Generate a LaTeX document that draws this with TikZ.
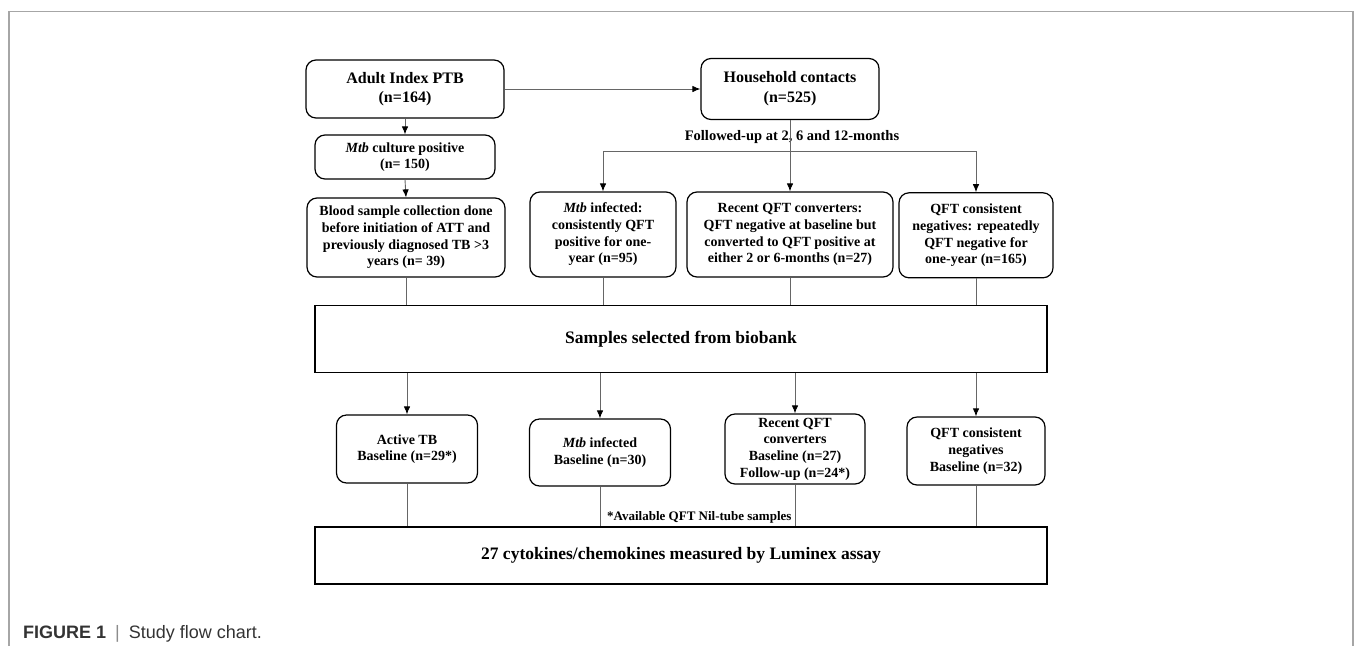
\documentclass[tikz,border=0pt]{standalone}
\usepackage{fontspec}
\setmainfont{Liberation Serif}
\setsansfont{Liberation Sans}
\usetikzlibrary{positioning,arrows.meta}

\begin{document}
\begin{tikzpicture}[
	%	style def
	x=1pt, y=-1pt,
	round box/.style={draw=black, line width=1.2pt, rounded corners=10pt, inner sep=0pt, align=center, font=\fontsize{14}{16.7}\selectfont\bfseries},
	flat box/.style={draw=black, line width=1.2pt, inner sep=0pt, align=center, font=\fontsize{17.5}{20}\selectfont\bfseries},
	link/.style={draw=black!60, line width=0.9pt},
	arrow line/.style={link, -{Latex[black,length=8pt,width=6.5pt]}},
	frame line/.style={draw=black!35, line width=1.5pt}
	]
	\useasboundingbox (0,0) rectangle (1354,646);

	% outer frame, open at the bottom
	\draw[frame line] (9,646) -- (9,11.5) -- (1353,11.5) -- (1353,646);

	% top row
	\node[round box, minimum width=198, minimum height=58, font=\fontsize{16}{19}\selectfont\bfseries] (adult) at (405,89) {Adult Index PTB\\(n=164)};
	\node[round box, minimum width=178, minimum height=61, font=\fontsize{16}{20}\selectfont\bfseries] (hh) at (790,89) {Household contacts\\(n=525)};
	\node[round box, minimum width=180, minimum height=44] (mtbcult) at (405,157) {\textit{Mtb} culture positive\\(n= 150)};
	\node[font=\fontsize{14.5}{16}\selectfont\bfseries, inner sep=0pt] (follow) at (792,137) {Followed-up at 2, 6 and 12-months};
	\coordinate (split) at (hh.south |- 0,151.7);

	% groups
	\node[round box, minimum width=198, minimum height=79] (blood) at (406,237.5) {Blood sample collection done\\before initiation of ATT and\\previously diagnosed TB >3\\years (n= 39)};
	\node[round box, minimum width=146, minimum height=85] (infected) at (603,234.5) {\textit{Mtb} infected:\\consistently QFT\\positive for one-\\year (n=95)};
	\node[round box, minimum width=206, minimum height=85] (recent) at (790,234.5) {Recent QFT converters:\\QFT negative at baseline but\\converted to QFT positive at\\either 2 or 6-months (n=27)};
	\node[round box, minimum width=154, minimum height=85] (qftneg) at (976,235.3) {QFT consistent\\negatives: repeatedly\\QFT negative for\\one-year (n=165)};

	\node[flat box, minimum width=732, minimum height=67] (samples) at (681,339.3) {Samples selected from biobank};

	% selected samples
	\node[round box, minimum width=141, minimum height=68] (active) at (407,449) {Active TB\\Baseline (n=29*)};
	\node[round box, minimum width=141, minimum height=67] (infB) at (600,452.5) {\textit{Mtb} infected\\Baseline (n=30)};
	\node[round box, minimum width=140, minimum height=70] (recentB) at (795,449) {Recent QFT\\converters\\Baseline (n=27)\\Follow-up (n=24*)};
	\node[round box, minimum width=138, minimum height=68] (negB) at (976,451) {QFT consistent\\negatives\\Baseline (n=32)};

	\node[font=\fontsize{13}{15}\selectfont\bfseries, inner sep=0pt, anchor=west] (note) at (607,517) {*Available QFT Nil-tube samples};
	\node[flat box, minimum width=732, minimum height=57] (luminex) at (681,555.4) {27 cytokines/chemokines measured by Luminex assay};

	% connections
	\draw[arrow line] (adult.east) -- (hh.west);
	\draw[arrow line] (adult.south) -- (mtbcult.north);
	\draw[arrow line] (mtbcult.south) -- (blood.north);
	\draw[arrow line] (hh.south) -- (recent.north);
	\draw[arrow line] (split) -| (infected.north);
	\draw[arrow line] (split) -| (qftneg.north);
	\foreach \n in {blood,infected,recent,qftneg}
		\draw[link] (\n.south) -- (\n.south |- samples.north);
	\foreach \n in {active,infB,recentB,negB}{
		\draw[arrow line] (\n.north |- samples.south) -- (\n.north);
		\draw[link] (\n.south) -- (\n.south |- luminex.north);
	}

	% caption
	\node[anchor=west, inner sep=0pt, font=\sffamily\fontsize{18}{20}\selectfont, text=black!80] (caption) at (23,634) {\textbf{FIGURE 1}\enspace\textcolor{black!45}{|}\enspace Study flow chart.};
\end{tikzpicture}
\end{document}
